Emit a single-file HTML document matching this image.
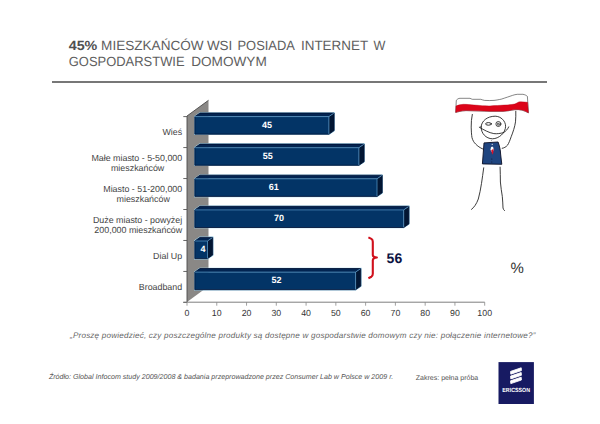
<!DOCTYPE html>
<html><head><meta charset="utf-8"><style>
html,body{margin:0;padding:0;background:#fff;width:600px;height:424px;overflow:hidden}
svg{display:block;font-family:"Liberation Sans", sans-serif;text-rendering:geometricPrecision}
</style></head><body>
<svg width="600" height="424" viewBox="0 0 600 424">
<text x="68.70" y="50" font-size="13.3" font-weight="bold" fill="#505050" textLength="28.60" lengthAdjust="spacingAndGlyphs">45%</text>
<text x="101.10" y="50" font-size="13.3" fill="#5e5e5e" textLength="102.50" lengthAdjust="spacingAndGlyphs">MIESZKAŃCÓW</text>
<text x="206.90" y="50" font-size="13.3" fill="#5e5e5e" textLength="25.40" lengthAdjust="spacingAndGlyphs">WSI</text>
<text x="237.50" y="50" font-size="13.3" fill="#5e5e5e" textLength="57.40" lengthAdjust="spacingAndGlyphs">POSIADA</text>
<text x="301.00" y="50" font-size="13.3" fill="#5e5e5e" textLength="67.10" lengthAdjust="spacingAndGlyphs">INTERNET</text>
<text x="373.40" y="50" font-size="13.3" fill="#5e5e5e" textLength="11.90" lengthAdjust="spacingAndGlyphs">W</text>
<text x="68.80" y="66.2" font-size="13.3" fill="#5e5e5e" textLength="115.80" lengthAdjust="spacingAndGlyphs">GOSPODARSTWIE</text>
<text x="191.20" y="66.2" font-size="13.3" fill="#5e5e5e" textLength="75.60" lengthAdjust="spacingAndGlyphs">DOMOWYM</text>
<rect x="52" y="81" width="495" height="2" fill="#777"/>
<path d="M187,116 L208.5,100.3 L208.5,286.3 L187,302 Z" fill="#8a8886"/>
<path d="M187,302 L187,116 L208.5,100.3" fill="none" stroke="#4a4a4a" stroke-width="0.9"/>
<path d="M183.3,116.6 L187,116.6" stroke="#555" stroke-width="0.9"/>
<path d="M183.3,147.57 L187,147.57" stroke="#555" stroke-width="0.9"/>
<path d="M183.3,178.54 L187,178.54" stroke="#555" stroke-width="0.9"/>
<path d="M183.3,209.51 L187,209.51" stroke="#555" stroke-width="0.9"/>
<path d="M183.3,240.48 L187,240.48" stroke="#555" stroke-width="0.9"/>
<path d="M183.3,271.45 L187,271.45" stroke="#555" stroke-width="0.9"/>
<path d="M183.3,302.41999999999996 L187,302.41999999999996" stroke="#555" stroke-width="0.9"/>
<path d="M183.3,302.2 L484.7,302.2" stroke="#707070" stroke-width="0.9"/>
<path d="M187.00,302.2 L187.00,305.7" stroke="#888" stroke-width="0.8"/>
<text x="187.00" y="316.3" text-anchor="middle" font-size="8.8" fill="#333">0</text>
<path d="M216.77,302.2 L216.77,305.7" stroke="#888" stroke-width="0.8"/>
<text x="216.77" y="316.3" text-anchor="middle" font-size="8.8" fill="#333">10</text>
<path d="M246.54,302.2 L246.54,305.7" stroke="#888" stroke-width="0.8"/>
<text x="246.54" y="316.3" text-anchor="middle" font-size="8.8" fill="#333">20</text>
<path d="M276.31,302.2 L276.31,305.7" stroke="#888" stroke-width="0.8"/>
<text x="276.31" y="316.3" text-anchor="middle" font-size="8.8" fill="#333">30</text>
<path d="M306.08,302.2 L306.08,305.7" stroke="#888" stroke-width="0.8"/>
<text x="306.08" y="316.3" text-anchor="middle" font-size="8.8" fill="#333">40</text>
<path d="M335.85,302.2 L335.85,305.7" stroke="#888" stroke-width="0.8"/>
<text x="335.85" y="316.3" text-anchor="middle" font-size="8.8" fill="#333">50</text>
<path d="M365.62,302.2 L365.62,305.7" stroke="#888" stroke-width="0.8"/>
<text x="365.62" y="316.3" text-anchor="middle" font-size="8.8" fill="#333">60</text>
<path d="M395.39,302.2 L395.39,305.7" stroke="#888" stroke-width="0.8"/>
<text x="395.39" y="316.3" text-anchor="middle" font-size="8.8" fill="#333">70</text>
<path d="M425.16,302.2 L425.16,305.7" stroke="#888" stroke-width="0.8"/>
<text x="425.16" y="316.3" text-anchor="middle" font-size="8.8" fill="#333">80</text>
<path d="M454.93,302.2 L454.93,305.7" stroke="#888" stroke-width="0.8"/>
<text x="454.93" y="316.3" text-anchor="middle" font-size="8.8" fill="#333">90</text>
<path d="M484.70,302.2 L484.70,305.7" stroke="#888" stroke-width="0.8"/>
<text x="484.70" y="316.3" text-anchor="middle" font-size="8.8" fill="#333">100</text>
<path d="M194.8,116.60 L200.0,113.00 L334.09999999999997,113.00 L334.09999999999997,130.60 L328.9,134.20 L194.8,134.20 Z" fill="none" stroke="#9fd6ee" stroke-width="1.6"/>
<rect x="194.8" y="116.60" width="134.10" height="17.60" fill="#033466"/>
<path d="M194.8,116.60 L200.0,113.00 L334.09999999999997,113.00 L328.9,116.60 Z" fill="#022451"/>
<path d="M328.9,116.60 L334.09999999999997,113.00 L334.09999999999997,130.60 L328.9,134.20 Z" fill="#021633"/>
<path d="M194.8,116.60 L200.0,113.00 L334.09999999999997,113.00 L334.09999999999997,130.60 L328.9,134.20 L194.8,134.20 Z" fill="none" stroke="#000d2e" stroke-width="0.8" transform="translate(0,0)"/>
<path d="M195.10000000000002,116.60 L328.9,116.60 L333.79999999999995,113.20 M328.9,116.60 L328.9,133.90" fill="none" stroke="#4f8fbf" stroke-width="0.8"/>
<text x="267.0" y="127.90" text-anchor="middle" font-weight="bold" font-size="9" fill="#fff">45</text>
<path d="M194.8,147.70 L200.0,144.10 L364.09999999999997,144.10 L364.09999999999997,161.70 L358.9,165.30 L194.8,165.30 Z" fill="none" stroke="#9fd6ee" stroke-width="1.6"/>
<rect x="194.8" y="147.70" width="164.10" height="17.60" fill="#033466"/>
<path d="M194.8,147.70 L200.0,144.10 L364.09999999999997,144.10 L358.9,147.70 Z" fill="#022451"/>
<path d="M358.9,147.70 L364.09999999999997,144.10 L364.09999999999997,161.70 L358.9,165.30 Z" fill="#021633"/>
<path d="M194.8,147.70 L200.0,144.10 L364.09999999999997,144.10 L364.09999999999997,161.70 L358.9,165.30 L194.8,165.30 Z" fill="none" stroke="#000d2e" stroke-width="0.8" transform="translate(0,0)"/>
<path d="M195.10000000000002,147.70 L358.9,147.70 L363.79999999999995,144.30 M358.9,147.70 L358.9,165.00" fill="none" stroke="#4f8fbf" stroke-width="0.8"/>
<text x="267.8" y="159.00" text-anchor="middle" font-weight="bold" font-size="9" fill="#fff">55</text>
<path d="M194.8,178.80 L200.0,175.20 L382.2,175.20 L382.2,192.80 L377.0,196.40 L194.8,196.40 Z" fill="none" stroke="#9fd6ee" stroke-width="1.6"/>
<rect x="194.8" y="178.80" width="182.20" height="17.60" fill="#033466"/>
<path d="M194.8,178.80 L200.0,175.20 L382.2,175.20 L377.0,178.80 Z" fill="#022451"/>
<path d="M377.0,178.80 L382.2,175.20 L382.2,192.80 L377.0,196.40 Z" fill="#021633"/>
<path d="M194.8,178.80 L200.0,175.20 L382.2,175.20 L382.2,192.80 L377.0,196.40 L194.8,196.40 Z" fill="none" stroke="#000d2e" stroke-width="0.8" transform="translate(0,0)"/>
<path d="M195.10000000000002,178.80 L377.0,178.80 L381.9,175.40 M377.0,178.80 L377.0,196.10" fill="none" stroke="#4f8fbf" stroke-width="0.8"/>
<text x="273.8" y="190.10" text-anchor="middle" font-weight="bold" font-size="9" fill="#fff">61</text>
<path d="M194.8,209.90 L200.0,206.30 L408.9,206.30 L408.9,223.90 L403.7,227.50 L194.8,227.50 Z" fill="none" stroke="#9fd6ee" stroke-width="1.6"/>
<rect x="194.8" y="209.90" width="208.90" height="17.60" fill="#033466"/>
<path d="M194.8,209.90 L200.0,206.30 L408.9,206.30 L403.7,209.90 Z" fill="#022451"/>
<path d="M403.7,209.90 L408.9,206.30 L408.9,223.90 L403.7,227.50 Z" fill="#021633"/>
<path d="M194.8,209.90 L200.0,206.30 L408.9,206.30 L408.9,223.90 L403.7,227.50 L194.8,227.50 Z" fill="none" stroke="#000d2e" stroke-width="0.8" transform="translate(0,0)"/>
<path d="M195.10000000000002,209.90 L403.7,209.90 L408.59999999999997,206.50 M403.7,209.90 L403.7,227.20" fill="none" stroke="#4f8fbf" stroke-width="0.8"/>
<text x="279.0" y="221.20" text-anchor="middle" font-weight="bold" font-size="9" fill="#fff">70</text>
<path d="M194.8,241.00 L200.0,237.40 L212.7,237.40 L212.7,255.00 L207.5,258.60 L194.8,258.60 Z" fill="none" stroke="#9fd6ee" stroke-width="1.6"/>
<rect x="194.8" y="241.00" width="12.70" height="17.60" fill="#033466"/>
<path d="M194.8,241.00 L200.0,237.40 L212.7,237.40 L207.5,241.00 Z" fill="#022451"/>
<path d="M207.5,241.00 L212.7,237.40 L212.7,255.00 L207.5,258.60 Z" fill="#021633"/>
<path d="M194.8,241.00 L200.0,237.40 L212.7,237.40 L212.7,255.00 L207.5,258.60 L194.8,258.60 Z" fill="none" stroke="#000d2e" stroke-width="0.8" transform="translate(0,0)"/>
<path d="M195.10000000000002,241.00 L207.5,241.00 L212.39999999999998,237.60 M207.5,241.00 L207.5,258.30" fill="none" stroke="#4f8fbf" stroke-width="0.8"/>
<text x="202.9" y="252.30" text-anchor="middle" font-weight="bold" font-size="9" fill="#fff">4</text>
<path d="M194.8,272.10 L200.0,268.50 L360.8,268.50 L360.8,286.10 L355.6,289.70 L194.8,289.70 Z" fill="none" stroke="#9fd6ee" stroke-width="1.6"/>
<rect x="194.8" y="272.10" width="160.80" height="17.60" fill="#033466"/>
<path d="M194.8,272.10 L200.0,268.50 L360.8,268.50 L355.6,272.10 Z" fill="#022451"/>
<path d="M355.6,272.10 L360.8,268.50 L360.8,286.10 L355.6,289.70 Z" fill="#021633"/>
<path d="M194.8,272.10 L200.0,268.50 L360.8,268.50 L360.8,286.10 L355.6,289.70 L194.8,289.70 Z" fill="none" stroke="#000d2e" stroke-width="0.8" transform="translate(0,0)"/>
<path d="M195.10000000000002,272.10 L355.6,272.10 L360.5,268.70 M355.6,272.10 L355.6,289.40" fill="none" stroke="#4f8fbf" stroke-width="0.8"/>
<text x="276.6" y="283.40" text-anchor="middle" font-weight="bold" font-size="9" fill="#fff">52</text>
<text x="182.2" y="134.8" text-anchor="end" font-size="8.9" fill="#444">Wieś</text>
<text x="182.2" y="160.9" text-anchor="end" font-size="8.9" fill="#444">Małe miasto - 5-50,000</text>
<text x="137.6" y="171.0" text-anchor="middle" font-size="8.9" fill="#444">mieszkańców</text>
<text x="182.2" y="192.0" text-anchor="end" font-size="8.9" fill="#444">Miasto - 51-200,000</text>
<text x="143.2" y="202.4" text-anchor="middle" font-size="8.9" fill="#444">mieszkańców</text>
<text x="182.2" y="223.0" text-anchor="end" font-size="8.9" fill="#444">Duże miasto - powyżej</text>
<text x="182.2" y="233.0" text-anchor="end" font-size="8.9" fill="#444">200,000 mieszkańców</text>
<text x="182.2" y="259.0" text-anchor="end" font-size="8.9" fill="#444">Dial Up</text>
<text x="182.2" y="289.8" text-anchor="end" font-size="8.9" fill="#444">Broadband</text>
<path d="M368.4,237.4 L371.4,238.9 Q372.8,239.8 372.8,241.8 L372.8,255 Q372.8,257.2 376.9,257.5 Q372.8,257.9 372.8,260.2 L372.8,273.8 Q372.8,275.8 371.4,276.7 L368.4,278.2" fill="none" stroke="#d0101c" stroke-width="2.1" stroke-linejoin="round"/>
<text x="386.6" y="262.9" font-size="14" font-weight="bold" fill="#0b1242">56</text>
<text x="510.6" y="272.9" font-size="15" fill="#333">%</text>

<path d="M456.3,100.3 C457.5,99 458.5,98.3 460,98.3 L470,98.3 C471,98.5 471.5,99.3 472.5,99.3 L480.7,99.3 C482,99.5 483,100.3 484.5,100.4 C488,100.6 491,100.6 494,100.4 C497,100.1 499,99.5 501.2,99.2 C503.5,98.6 505.5,97.6 507.5,97.1 C511,96 514,94.6 517.3,94.3 L522.9,94.3 C524.8,94.6 526.4,95.4 527.4,96.4 L528.4,112.8 C526.5,112 524.5,110.6 522,110.1 C519.5,109.6 517,109.4 515,109.6 C511,110.2 507,111.2 503,111.3 L490,111.3 C482,111.2 474,110.6 466,110.6 C461,110.8 458,111.8 455.7,112.4 Z" fill="#fff" stroke="#333" stroke-width="0.6"/>
<path d="M456,106 C458,105.2 460.5,104.4 463.3,104.3 C467,104.3 471,104.8 474,105 C480,105.5 486,106 490,105.9 C495,105.7 500,105.3 504,105.1 C508,104.8 511.5,104.6 514.5,104.1 C516.5,103.6 517.5,102.3 518.7,102 C521,101.6 524,102 527.6,102.3 L528.4,112.8 C526.5,112 524.5,110.6 522,110.1 C519.5,109.6 517,109.4 515,109.6 C511,110.2 507,111.2 503,111.3 L490,111.3 C482,111.2 474,110.6 466,110.6 C461,110.8 458,111.8 455.7,112.4 Z" fill="#dc0419" stroke="#b00012" stroke-width="0.4"/>
<g fill="none" stroke="#1a1a1a" stroke-width="0.85" stroke-linecap="round">
  <path d="M481.1,126.9 C481.5,121 487,116.3 495.2,116.2 C501,116.3 505.5,121 505.6,126.2 C505.5,133 499,138.7 492.4,138.8 C486,138.6 481,133.5 481.1,126.9 Z"/>
  <ellipse cx="488.5" cy="123.9" rx="2.9" ry="1.3" stroke-width="0.9"/>
  <circle cx="498.4" cy="124" r="2.5" stroke-width="0.8"/>
  <path d="M497.6,123.6 L497.8,125.2 L499.4,125 L499.2,123.7 Z" stroke-width="0.7"/>
  <path d="M479.3,127.2 C484,130 489,132.8 493.8,133.6 C497,134 500.5,133.5 503.7,132.5 C506,131.2 507.8,129 508.7,126.9"/>
  <path d="M472.3,114.4 C471.5,118 471.1,123 471.2,127.1 C471.3,131 471.5,135 472,137.7 C472.8,140.5 474,142.5 475.7,144.1 C477.5,146 480,147.8 482.6,148.9"/>
  <path d="M515.8,111.2 C515.9,114.5 515.8,118 515.5,121.8 C514.8,127 513,132 511.2,136.7 C510,140 509,143 507.5,145.2 C506,147 504,148 502.2,148.3"/>
  <path d="M483.7,167.8 C483,173 482.3,178 481.5,183.4 C480.5,189 479.8,194 478.3,199 C476.5,204 474,207.5 471.5,209.4"/>
  <path d="M500.1,167.1 C500.3,172 500.3,177 500.4,182 C500.8,187 501.6,192 502.3,196.4 C502.7,200 502.8,204 503,208 C503.3,209.3 503.8,210 504.5,210.6"/>
</g>
<circle cx="491.4" cy="140.4" r="0.45" fill="#444"/>
<path d="M484,142.9 L498.1,142 C499.5,146 500.5,150 500.6,154 L501.8,164.3 L482.4,163.9 C483,157 483.5,150 484,142.9 Z" fill="#1f4580" stroke="#0a0f25" stroke-width="0.9"/>
<ellipse cx="492.1" cy="149.2" rx="1.5" ry="2.8" fill="#fff"/>
<path d="M491.2,150.2 L493.6,148.8 L493.3,152.8 L492.2,154.8 Z" fill="#d9112a"/>
<circle cx="492.2" cy="144.3" r="0.6" fill="#fff"/>
<circle cx="491.8" cy="159" r="0.5" fill="#112"/>
<circle cx="491.8" cy="162" r="0.5" fill="#112"/>

<text x="70" y="338" font-size="8.1" font-style="italic" fill="#666" textLength="465.5" lengthAdjust="spacing">„Proszę powiedzieć, czy poszczególne produkty są dostępne w gospodarstwie domowym czy nie: połączenie internetowe?”</text>
<text x="48.9" y="378.7" font-size="7.12" font-style="italic" fill="#555">Źródło: Global Infocom study 2009/2008 &amp; badania przeprowadzone przez Consumer Lab w Polsce w 2009 r.</text>
<text x="415.8" y="380.3" font-size="7.02" fill="#555">Zakres: pełna próba</text>

<rect x="498.5" y="362.1" width="35.4" height="41.9" fill="#171a62"/>
<g fill="#fff" stroke="#fff" stroke-width="0.9" stroke-linejoin="round">
  <path d="M510.6,371.4 L521.2,367.8 L521.4,370.6 L510.8,374.2 Z"/>
  <path d="M510.6,376.1 L521.2,372.5 L521.4,375.3 L510.8,378.9 Z"/>
  <path d="M510.6,380.8 L521.2,377.2 L521.4,380.0 L510.8,383.6 Z"/>
</g>
<text x="516.2" y="391.7" text-anchor="middle" font-weight="bold" font-size="6" fill="#fff" textLength="27.8" lengthAdjust="spacingAndGlyphs">ERICSSON</text>

</svg>
</body></html>
